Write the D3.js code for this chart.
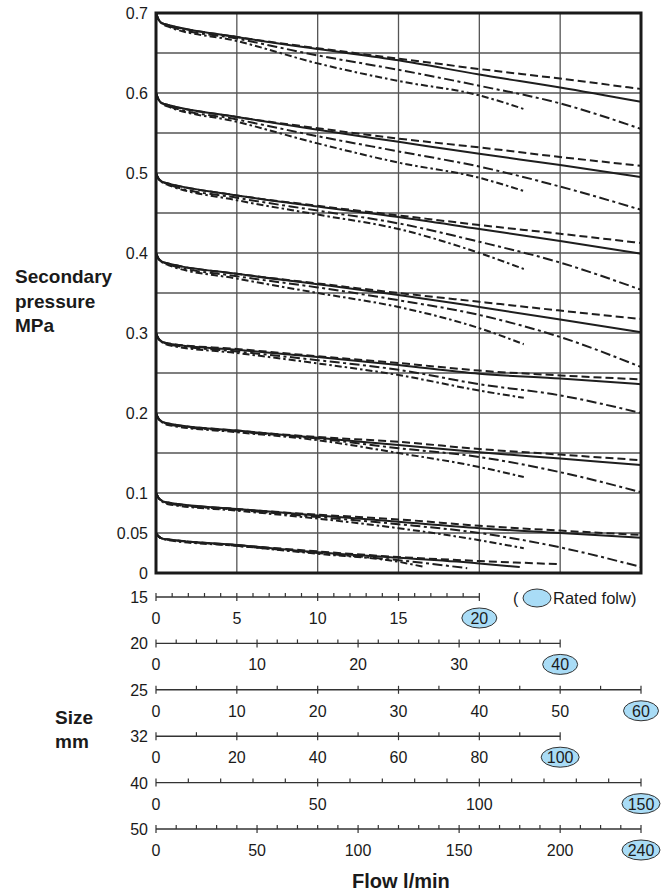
<!DOCTYPE html>
<html>
<head>
<meta charset="utf-8">
<script src="https://cdn.jsdelivr.net/npm/d3@7"></script>
<style>
  html, body { margin: 0; padding: 0; background: #fff; }
  svg text { font-family: "Liberation Sans", Arial, sans-serif; fill: #1a1a1a; }
</style>
</head>
<body>
<svg id="chart" width="669" height="896"></svg>
<script>
// Flow on the 25 mm scale (l/min) where the curves are sampled
const flowPts = [0, 0.3, 0.8, 1.5, 10, 20, 30, 40, 50, 60];
const setPressures = [0.7, 0.6, 0.5, 0.4, 0.3, 0.2, 0.1, 0.05];

// Secondary pressure (MPa) for each set pressure, one array per curve style
const dashVals = [
  [0.700, 0.692, 0.687, 0.685, 0.670, 0.656, 0.643, 0.630, 0.618, 0.605],
  [0.600, 0.592, 0.587, 0.585, 0.570, 0.556, 0.543, 0.532, 0.520, 0.509],
  [0.500, 0.493, 0.489, 0.487, 0.472, 0.459, 0.447, 0.435, 0.424, 0.4125],
  [0.400, 0.393, 0.389, 0.387, 0.374, 0.362, 0.350, 0.339, 0.328, 0.3175],
  [0.300, 0.293, 0.289, 0.287, 0.280, 0.271, 0.2625, 0.253, 0.247, 0.242],
  [0.200, 0.193, 0.189, 0.187, 0.178, 0.170, 0.164, 0.155, 0.148, 0.141],
  [0.100, 0.094, 0.090, 0.088, 0.080, 0.073, 0.067, 0.059, 0.053, 0.0475],
  [0.050, 0.046, 0.043, 0.042, 0.035, 0.027, 0.020, 0.015, 0.011]
];
const solidVals = [
  [0.700, 0.692, 0.687, 0.685, 0.670, 0.655, 0.641, 0.623, 0.607, 0.589],
  [0.600, 0.592, 0.587, 0.585, 0.570, 0.554, 0.539, 0.524, 0.510, 0.495],
  [0.500, 0.493, 0.489, 0.487, 0.472, 0.458, 0.445, 0.430, 0.415, 0.399],
  [0.400, 0.393, 0.389, 0.387, 0.374, 0.361, 0.3475, 0.3325, 0.317, 0.301],
  [0.300, 0.293, 0.289, 0.287, 0.279, 0.270, 0.260, 0.249, 0.243, 0.236],
  [0.200, 0.193, 0.189, 0.187, 0.178, 0.169, 0.160, 0.151, 0.143, 0.135],
  [0.100, 0.094, 0.090, 0.088, 0.080, 0.072, 0.064, 0.056, 0.050, 0.044],
  [0.050, 0.046, 0.043, 0.042, 0.035, 0.026, 0.019, 0.012, 0.0075]
];
const dashDotVals = [
  [0.700, 0.692, 0.687, 0.684, 0.668, 0.647, 0.629, 0.609, 0.587, 0.555],
  [0.600, 0.592, 0.587, 0.584, 0.567, 0.546, 0.527, 0.508, 0.483, 0.454],
  [0.500, 0.493, 0.489, 0.486, 0.469, 0.453, 0.437, 0.414, 0.388, 0.354],
  [0.400, 0.393, 0.389, 0.386, 0.371, 0.357, 0.341, 0.3225, 0.295, 0.2575],
  [0.300, 0.293, 0.289, 0.286, 0.277, 0.266, 0.254, 0.236, 0.222, 0.200],
  [0.200, 0.193, 0.189, 0.186, 0.177, 0.168, 0.156, 0.145, 0.126, 0.101],
  [0.100, 0.094, 0.090, 0.087, 0.079, 0.070, 0.061, 0.050, 0.032, 0.0075],
  [0.050, 0.046, 0.043, 0.042, 0.034, 0.025, 0.016, 0.006]
];
const shortVals = [
  [0.700, 0.692, 0.686, 0.683, 0.665, 0.637, 0.615, 0.597, 0.580],
  [0.600, 0.592, 0.586, 0.583, 0.564, 0.537, 0.513, 0.494, 0.4775],
  [0.500, 0.493, 0.488, 0.485, 0.466, 0.448, 0.430, 0.400, 0.380],
  [0.400, 0.393, 0.388, 0.385, 0.368, 0.350, 0.3325, 0.306, 0.286],
  [0.300, 0.293, 0.288, 0.285, 0.275, 0.262, 0.2475, 0.228, 0.219],
  [0.200, 0.193, 0.188, 0.185, 0.176, 0.166, 0.150, 0.1325, 0.120],
  [0.100, 0.094, 0.089, 0.086, 0.078, 0.068, 0.056, 0.041, 0.031],
  [0.050, 0.046, 0.043, 0.041, 0.034, 0.024, 0.014, 0.008]
];
// flow where each curve stops (last value of the arrays above sits here)
const dashEnd = [60, 60, 60, 60, 60, 60, 60, 50];
const solidEnd = [60, 60, 60, 60, 60, 60, 60, 45];
const dashDotEnd = [60, 60, 60, 60, 60, 60, 60, 38.5];
const shortEnd = [45.5, 45.5, 45.5, 45.5, 45.5, 45.5, 45.5, 33];

const yLabels = [0.7, 0.6, 0.5, 0.4, 0.3, 0.2, 0.1, 0.05, 0];

// flow axes per port size
const sizes = ['15', '20', '25', '32', '40', '50'];
const ratedFlow = [20, 40, 60, 100, 150, 240];
const perDivision = [5, 8, 10, 20, 25, 40];
const minorStep = [1, 2, 5, 10, 10, 10];
const majorStep = [5, 10, 10, 20, 50, 50];

const svg = d3.select('#chart');

const x = d3.scaleLinear().domain([0, 60]).range([156, 641]);
const y = d3.scaleLinear().domain([0, 0.7]).range([573, 13]);

// grid
const grid = svg.append('g');
grid.selectAll('line.v')
  .data(d3.range(10, 60, 10))
  .enter().append('line')
  .attr('x1', d => x(d)).attr('x2', d => x(d))
  .attr('y1', y(0.7)).attr('y2', y(0))
  .attr('stroke', '#555').attr('stroke-width', 1.3);
grid.selectAll('line.h')
  .data(d3.range(1, 14).map(i => i * 0.05))
  .enter().append('line')
  .attr('x1', x(0)).attr('x2', x(60))
  .attr('y1', d => y(d)).attr('y2', d => y(d))
  .attr('stroke', '#555').attr('stroke-width', 1.3);

// curves
const line = d3.line()
  .x(d => x(d[0]))
  .y(d => y(d[1]))
  .curve(d3.curveMonotoneX);

function toPoints(vals, end) {
  return vals.map((v, i) => [i === vals.length - 1 ? end : flowPts[i], v]);
}

const styles = [
  { vals: shortVals, end: shortEnd, dash: '7,3,2.5,3' },
  { vals: dashDotVals, end: dashDotEnd, dash: '10,3.5,3,3.5' },
  { vals: solidVals, end: solidEnd, dash: null },
  { vals: dashVals, end: dashEnd, dash: '8,4' }
];

const curves = svg.append('g');
styles.forEach(s => {
  setPressures.forEach((p, gi) => {
    curves.append('path')
      .attr('d', line(toPoints(s.vals[gi], s.end[gi])))
      .attr('fill', 'none')
      .attr('stroke', '#1e1e1e')
      .attr('stroke-width', 2)
      .attr('stroke-dasharray', s.dash);
  });
});

// frame
svg.append('rect')
  .attr('x', x(0)).attr('y', y(0.7))
  .attr('width', x(60) - x(0)).attr('height', y(0) - y(0.7))
  .attr('fill', 'none').attr('stroke', '#1a1a1a').attr('stroke-width', 3);

// y labels
svg.append('g').selectAll('text')
  .data(yLabels)
  .enter().append('text')
  .attr('x', 148)
  .attr('y', d => y(d) + 6)
  .attr('text-anchor', 'end')
  .attr('font-size', 16)
  .text(d => d);

svg.append('text')
  .attr('font-size', 19).attr('font-weight', 'bold')
  .selectAll('tspan')
  .data(['Secondary', 'pressure', 'MPa'])
  .enter().append('tspan')
  .attr('x', 15)
  .attr('y', (d, i) => 283 + i * 24.5)
  .text(d => d);

// flow axes
const axisY0 = 597, axisGap = 46.4;
sizes.forEach((s, i) => {
  const ay = axisY0 + i * axisGap;
  const sc = d3.scaleLinear()
    .domain([0, ratedFlow[i]])
    .range([x(0), x(ratedFlow[i] / perDivision[i] * 10)]);
  const g = svg.append('g');

  g.append('line')
    .attr('x1', sc(0)).attr('x2', sc(ratedFlow[i]))
    .attr('y1', ay).attr('y2', ay)
    .attr('stroke', '#333').attr('stroke-width', 1.4);

  const minors = d3.range(0, ratedFlow[i] + 0.001, minorStep[i]);
  g.selectAll('line.minor')
    .data(minors)
    .enter().append('line')
    .attr('x1', d => sc(d)).attr('x2', d => sc(d))
    .attr('y1', ay - 4)
    .attr('y2', d => (d % majorStep[i] === 0 || d === ratedFlow[i]) ? ay + 4 : ay)
    .attr('stroke', '#333').attr('stroke-width', 1.2);

  const majors = d3.range(0, ratedFlow[i], majorStep[i]);
  g.selectAll('text.tick')
    .data(majors)
    .enter().append('text')
    .attr('x', d => sc(d))
    .attr('y', ay + 27)
    .attr('text-anchor', 'middle')
    .attr('font-size', 16)
    .text(d => d);

  // rated flow marked in an ellipse
  const r = String(ratedFlow[i]);
  g.append('ellipse')
    .attr('cx', sc(ratedFlow[i])).attr('cy', ay + 21)
    .attr('rx', r.length > 2 ? 19 : 17.5).attr('ry', 10)
    .attr('fill', '#a9dcf6').attr('stroke', '#333').attr('stroke-width', 1);
  g.append('text')
    .attr('x', sc(ratedFlow[i]))
    .attr('y', ay + 27)
    .attr('text-anchor', 'middle')
    .attr('font-size', 16)
    .text(r);

  g.append('text')
    .attr('x', 148)
    .attr('y', ay + 6)
    .attr('text-anchor', 'end')
    .attr('font-size', 16)
    .text(s);
});

// legend
svg.append('text').attr('x', 513).attr('y', 604).attr('font-size', 16).text('(');
svg.append('ellipse')
  .attr('cx', 537).attr('cy', 598).attr('rx', 14).attr('ry', 9)
  .attr('fill', '#a9dcf6').attr('stroke', '#333').attr('stroke-width', 1);
svg.append('text').attr('x', 553).attr('y', 604).attr('font-size', 16.5).text('Rated folw)');

svg.append('text')
  .attr('font-size', 19).attr('font-weight', 'bold')
  .selectAll('tspan')
  .data(['Size', 'mm'])
  .enter().append('tspan')
  .attr('x', 55)
  .attr('y', (d, i) => 724 + i * 24)
  .text(d => d);

svg.append('text')
  .attr('x', 352).attr('y', 888)
  .attr('font-size', 20).attr('font-weight', 'bold')
  .text('Flow l/min');
</script>
</body>
</html>
